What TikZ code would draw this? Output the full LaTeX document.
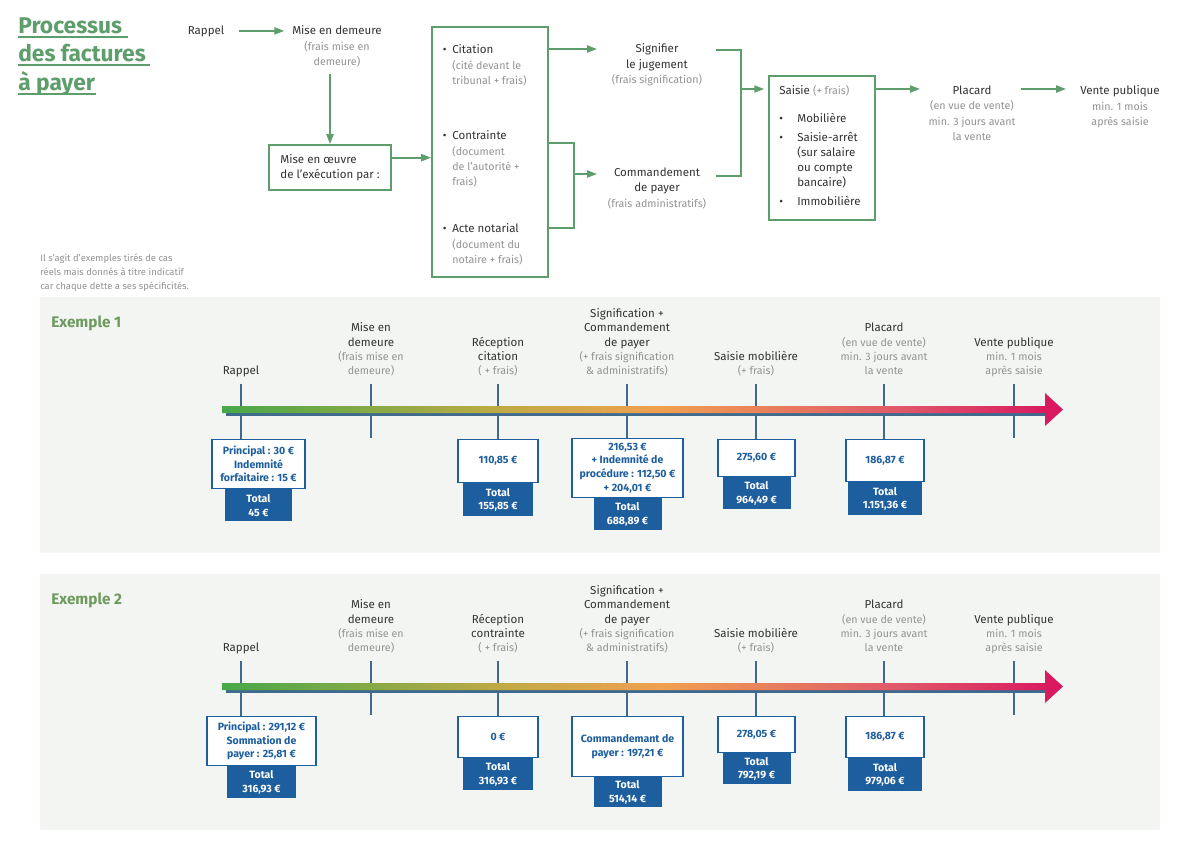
\documentclass[tikz,border=0pt]{standalone}
\usepackage{fontspec}
\setmainfont{Fira Sans}
\usetikzlibrary{arrows.meta,positioning}
\definecolor{FlowCol}{HTML}{5E9E6C}
\definecolor{ExCol}{HTML}{6E9A5E}
\definecolor{TextCol}{HTML}{333333}
\definecolor{NoteCol}{HTML}{939393}
\definecolor{BoxCol}{HTML}{1D5E9E}
\definecolor{TickCol}{HTML}{3F6A8E}
\definecolor{PanelCol}{HTML}{F3F5F3}
\definecolor{BarA}{HTML}{48A848}
\definecolor{BarB}{HTML}{C2AA45}
\definecolor{BarC}{HTML}{F0A050}
\definecolor{BarD}{HTML}{E05A6A}
\definecolor{BarE}{HTML}{D8145E}
\pgfdeclarehorizontalshading{TimeBar}{100bp}{color(0bp)=(BarA); color(25bp)=(BarA);
  color(42bp)=(BarB); color(51bp)=(BarC); color(65bp)=(BarD); color(75bp)=(BarE); color(100bp)=(BarE)}
\newcommand\notetxt[1]{{\color{NoteCol}\fontsize{7.6}{10.6}\selectfont #1}}
\tikzset{
  titletxt/.style={
    font=\bfseries\fontsize{16.2}{20}\selectfont,
    text=FlowCol,
    inner sep=0pt,
    anchor=base west,
    },
  toptxt/.style={
    font=\fontsize{8.2}{10.9}\selectfont,
    text=TextCol,
    align=center,
    inner sep=0pt,
    },
  steptxt/.style={
    font=\fontsize{8.2}{10.2}\selectfont,
    text=TextCol,
    align=center,
    inner sep=0pt,
    text depth=2pt,
    anchor=south,
    },
  extxt/.style={
    font=\bfseries\fontsize{10.9}{12}\selectfont,
    text=ExCol,
    inner sep=0pt,
    anchor=base west,
    },
  flowbox/.style={
    draw=FlowCol,
    line width=1.3pt,
    inner sep=0pt,
    },
  amount/.style={
    draw=BoxCol,
    line width=0.8pt,
    fill=white,
    text=BoxCol,
    font=\bfseries\fontsize{7.5}{9.7}\selectfont,
    align=center,
    inner sep=1pt,
    anchor=north,
    },
  total/.style={
    fill=BoxCol,
    text=white,
    font=\bfseries\fontsize{7.5}{9.7}\selectfont,
    align=center,
    inner sep=1pt,
    },
}
\tikzstyle{flow} = [-{Triangle[length=7pt,width=5pt]},FlowCol,line width=1.3pt]
\tikzstyle{bracket} = [FlowCol,line width=1.3pt]
\tikzstyle{tick} = [TickCol,line width=1.4pt]

\begin{document}
\begin{tikzpicture}[x=0.025cm,y=-0.025cm]
\useasboundingbox (0,0) rectangle (1200,848);
\fill[white] (0,0) rectangle (1200,848);

    % Title

    \node[titletxt] (title1) at (18,33) {Processus};
    \node[titletxt] (title2) at (18,61.5) {des factures};
    \node[titletxt] (title3) at (18,90) {à payer};
    \foreach \t/\e in {title1/4pt,title2/3pt,title3/0.5pt}
        \draw[FlowCol,line width=1.4pt] ([yshift=-2.8pt]\t.base west) -- ([yshift=-2.8pt,xshift=\e]\t.base east);

    % Process

    \node[toptxt,anchor=base] (rappel) at (206,34) {Rappel};
    \node[toptxt,anchor=north] (mise) at (337,25.5)
        {Mise en demeure\\\notetxt{(frais mise en}\\\notetxt{demeure)}};
    \node[flowbox,toptxt,align=left,minimum width=3.05cm,minimum height=1.125cm] (oeuvre) at (330,167.5)
        {Mise en œuvre\\de l’exécution par :};

    \node[flowbox,minimum width=2.9cm,minimum height=6.25cm] (actes) at (490,152) {};
    \node[toptxt,anchor=north west,align=left] (citation) at (452,44.5)
        {\llap{\textbullet\hspace{4pt}}Citation\\\notetxt{(cité devant le}\\\notetxt{tribunal + frais)}};
    \node[toptxt,anchor=north west,align=left] (contrainte) at (452,130.5)
        {\llap{\textbullet\hspace{4pt}}Contrainte\\\notetxt{(document}\\\notetxt{de l’autorité +}\\\notetxt{frais)}};
    \node[toptxt,anchor=north west,align=left] (acte) at (452,223.5)
        {\llap{\textbullet\hspace{4pt}}Acte notarial\\\notetxt{(document du}\\\notetxt{notaire + frais)}};

    \node[toptxt,anchor=north] (signif) at (657,43.5)
        {Signifier\\le jugement\\\notetxt{(frais signification)}};
    \node[toptxt,anchor=north] (cmd) at (657,167.5)
        {Commandement\\de payer\\\notetxt{(frais administratifs)}};

    \node[flowbox,minimum width=2.65cm,minimum height=3.6cm] (saisie) at (822,148) {};
    \node[toptxt,anchor=north west] (saisiehead) at (779,85.5) {Saisie \notetxt{(+ frais)}};
    \node[toptxt,anchor=north west,align=left] (saisieitems) at (797,112.5)
        {\llap{\textbullet\hspace{10pt}}Mobilière\\[2.6pt]\llap{\textbullet\hspace{10pt}}Saisie-arrêt\\(sur salaire\\ou compte\\bancaire)\\[2.6pt]\llap{\textbullet\hspace{10pt}}Immobilière};

    \node[toptxt,anchor=north] (placard) at (972,85.5)
        {Placard\\\notetxt{(en vue de vente)}\\\notetxt{min. 3 jours avant}\\\notetxt{la vente}};
    \node[toptxt,anchor=north] (vente) at (1120,85.5)
        {Vente publique\\\notetxt{min. 1 mois}\\\notetxt{après saisie}};

    \coordinate (toSignif) at (597,49);
    \coordinate (joinCmd) at (574,174);
    \coordinate (toCmd) at (597,174);
    \coordinate (fromSignif) at (716,50);
    \coordinate (fromCmd) at (716,176);
    \coordinate (joinSaisie) at (741,89);
    \coordinate (toPlacard) at (920,89);
    \coordinate (toVente) at (1066,89);

    \draw[flow] ([xshift=10.5pt]rappel.east) -- ([xshift=-5.5pt]rappel.east -| mise.west);
    \draw[flow,shorten <=5pt] (mise.south -| oeuvre.north) -- (oeuvre.north);
    \draw[flow] ([yshift=7pt]oeuvre.east) -- ([yshift=7pt]oeuvre.east -| actes.west);
    \draw[flow] (actes.east |- toSignif) -- (toSignif);
    \draw[bracket] (actes.east |- 0,143) -| (joinCmd) |- (actes.east |- 0,228);
    \draw[flow] (joinCmd) -- (toCmd);
    \draw[bracket] (fromSignif) -| (joinSaisie) |- (fromCmd);
    \draw[flow,shorten >=2.8pt] (joinSaisie) -- (joinSaisie -| saisie.west);
    \draw[flow] (saisie.east |- toPlacard) -- (toPlacard);
    \draw[flow,shorten <=4pt] (placard.east |- toVente) -- (toVente);

    \node[anchor=north west,font=\fontsize{6.7}{9.9}\selectfont,text=NoteCol,align=left,inner sep=0pt] (disclaimer) at (40,254)
        {Il s’agit d’exemples tirés de cas\\réels mais donnés à titre indicatif\\car chaque dette a ses spécificités.};

    % Examples

    \foreach \k/\dy/\rec in {1/0/citation,2/277/contrainte} {
        \fill[PanelCol] (40,297+\dy) rectangle (1160,553+\dy);
        \node[extxt] (ex\k) at (51,327+\dy) {Exemple \k};
        \node[steptxt] (lr\k) at (241,378+\dy) {Rappel};
        \node[steptxt] (ld\k) at (371,378+\dy)
            {Mise en\\demeure\\\notetxt{(frais mise en}\\\notetxt{demeure)}};
        \node[steptxt] (lc\k) at (498,378+\dy) {Réception\\\rec\\\notetxt{( + frais)}};
        \node[steptxt] (ls\k) at (627,378+\dy)
            {Signification +\\Commandement\\de payer\\\notetxt{(+ frais signification}\\\notetxt{\& administratifs)}};
        \node[steptxt] (lm\k) at (756,378+\dy) {Saisie mobilière\\\notetxt{(+ frais)}};
        \node[steptxt] (lp\k) at (884,378+\dy)
            {Placard\\\notetxt{(en vue de vente)}\\\notetxt{min. 3 jours avant}\\\notetxt{la vente}};
        \node[steptxt] (lv\k) at (1014,378+\dy)
            {Vente publique\\\notetxt{min. 1 mois}\\\notetxt{après saisie}};
    }

    \node[amount,minimum width=2.325cm,minimum height=1.225cm] (r1) at (258.5,439)
        {Principal : 30 €\\Indemnité\\forfaitaire : 15 €};
    \node[total,minimum width=1.675cm,minimum height=0.8cm,below=0pt of r1] (r1t) {Total\\45 €};
    \node[amount,minimum width=2cm,minimum height=1.075cm] (c1) at (498,439) {110,85 €};
    \node[total,minimum width=1.725cm,minimum height=0.825cm,below=0pt of c1] (c1t) {Total\\155,85 €};
    \node[amount,minimum width=2.775cm,minimum height=1.475cm] (s1) at (627.5,438)
        {216,53 €\\+ Indemnité de\\procédure : 112,50 €\\+ 204,01 €};
    \node[total,minimum width=1.7cm,minimum height=0.8cm,below=0pt of s1] (s1t) {Total\\688,89 €};
    \node[amount,minimum width=1.925cm,minimum height=0.925cm] (m1) at (756.5,439) {275,60 €};
    \node[total,minimum width=1.7cm,minimum height=0.8cm,below=0pt of m1] (m1t) {Total\\964,49 €};
    \node[amount,minimum width=1.95cm,minimum height=1.05cm] (p1) at (885,439) {186,87 €};
    \node[total,minimum width=1.85cm,minimum height=0.825cm,below=0pt of p1] (p1t) {Total\\1.151,36 €};

    \node[amount,minimum width=2.725cm,minimum height=1.225cm] (r2) at (261.5,716)
        {Principal : 291,12 €\\Sommation de\\payer : 25,81 €};
    \node[total,minimum width=1.7cm,minimum height=0.8cm,below=0pt of r2] (r2t) {Total\\316,93 €};
    \node[amount,minimum width=2cm,minimum height=1.025cm] (c2) at (498,716) {0 €};
    \node[total,minimum width=1.725cm,minimum height=0.8cm,below=0pt of c2] (c2t) {Total\\316,93 €};
    \node[amount,minimum width=2.775cm,minimum height=1.5cm] (s2) at (627.5,716)
        {Commandemant de\\payer : 197,21 €};
    \node[total,minimum width=1.7cm,minimum height=0.75cm,below=0pt of s2] (s2t) {Total\\514,14 €};
    \node[amount,minimum width=1.925cm,minimum height=0.9cm] (m2) at (756.5,716) {278,05 €};
    \node[total,minimum width=1.7cm,minimum height=0.775cm,below=0pt of m2] (m2t) {Total\\792,19 €};
    \node[amount,minimum width=1.95cm,minimum height=1.025cm] (p2) at (885,716) {186,87 €};
    \node[total,minimum width=1.85cm,minimum height=0.825cm,below=0pt of p2] (p2t) {Total\\979,06 €};

    % Timelines

    \foreach \k/\dy in {1/0,2/277} {
        \foreach \n in {r,c,s,m,p}
            \draw[tick,shorten <=4.25pt] (l\n\k.south) -- (l\n\k.south |- \n\k.north);
        \foreach \n in {d,v}
            \draw[tick] ([yshift=-4.25pt]l\n\k.south) -- ++(0,54);
        \fill[TickCol] (226,413+\dy) rectangle (1045,416+\dy);
        \shade[shading=TimeBar] (222,406+\dy) -- (1045,406+\dy) -- (1045,393+\dy) -- (1063,409.5+\dy)
            -- (1045,426+\dy) -- (1045,413+\dy) -- (222,413+\dy) -- cycle;
    }

\end{tikzpicture}
\end{document}
